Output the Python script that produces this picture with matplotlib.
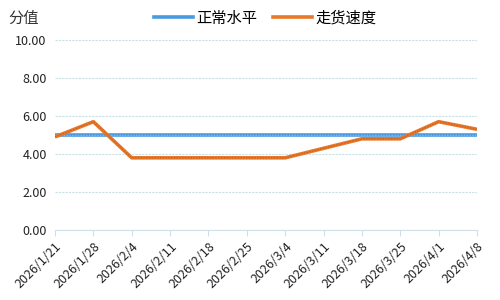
import matplotlib
matplotlib.use("Agg")
import matplotlib.pyplot as plt
from matplotlib.ticker import FormatStrFormatter
from matplotlib.lines import Line2D

plt.rcParams['font.family'] = ['Noto Sans CJK SC', 'DejaVu Sans']

dates = ["2026/1/21", "2026/1/28", "2026/2/4", "2026/2/11", "2026/2/18", "2026/2/25",
         "2026/3/4", "2026/3/11", "2026/3/18", "2026/3/25", "2026/4/1", "2026/4/8"]
normal_level = [5.0] * 12
speed = [4.9, 5.7, 3.8, 3.8, 3.8, 3.8, 3.8, 4.3, 4.8, 4.8, 5.7, 5.3]

fig = plt.figure(figsize=(5, 3), dpi=100)
ax = fig.add_axes([0.11, 0.233, 0.844, 0.634])
x = list(range(len(dates)))

blue = '#4A9AE0'
orange = '#E8782A'
ax.plot(x, normal_level, color=blue, lw=2.6, solid_capstyle='butt', zorder=3)
ax.plot(x, normal_level, color='#7FB8EE', lw=1.0, ls=(0, (1, 1)), zorder=3.1)
ax.plot(x, speed, color=orange, lw=2.6, solid_capstyle='butt', zorder=4)
ax.plot(x, speed, color='#C8641E', lw=1.0, ls=(0, (1, 1)), zorder=4.1)

ax.set_xlim(0, len(dates) - 1)
ax.set_ylim(0, 10)
ax.set_yticks([0, 2, 4, 6, 8, 10])
ax.yaxis.set_major_formatter(FormatStrFormatter('%.2f'))
ax.set_xticks(x)
ax.set_xticklabels(dates, rotation=45, ha='right', rotation_mode='anchor', fontsize=9, color='#222222')
ax.tick_params(axis='y', length=0, labelsize=9, labelcolor='#222222', pad=6)
ax.tick_params(axis='x', length=4, color='#D0E0E8', pad=3)
ax.grid(axis='y', color='#C8E0E6', ls=(0, (2, 1)), lw=0.8)
for s in ['top', 'right', 'left']:
    ax.spines[s].set_visible(False)
ax.spines['bottom'].set_color('#D0E0E8')
ax.spines['bottom'].set_linestyle((0, (2, 1)))

fig.text(0.016, 0.94, '分值', fontsize=11, color='#333333', va='center')

handles = [Line2D([], [], color=blue, lw=2.6), Line2D([], [], color=orange, lw=2.6)]
fig.legend(handles, ['正常水平', '走货速度'], loc='center', bbox_to_anchor=(0.53, 0.94),
           ncol=2, frameon=False, fontsize=11, handlelength=2.6, columnspacing=1.0, handletextpad=0.2)

fig.savefig('out.png', dpi=100)
